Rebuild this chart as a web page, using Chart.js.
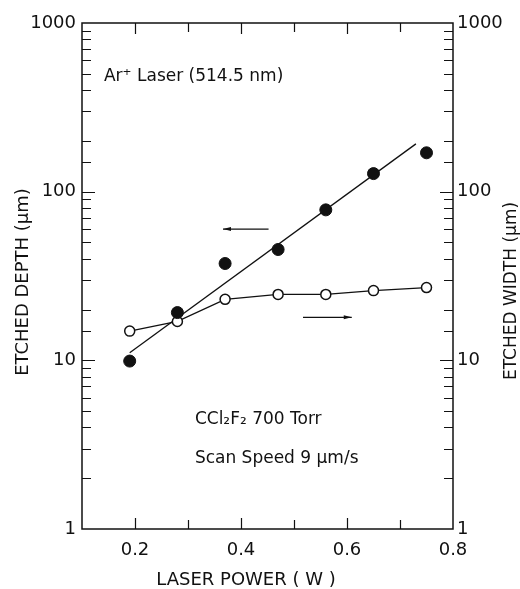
<!DOCTYPE html>
<html>
<head>
<meta charset="utf-8">
<script src="https://cdn.jsdelivr.net/npm/chart.js@4.4.1/dist/chart.umd.min.js"></script>
<style>
	html, body { margin: 0; padding: 0; background: #fff; }
	#wrap { width: 520px; height: 589px; }
</style>
</head>
<body>
<div id="wrap"><canvas id="graphics-canvas" width="520" height="589"></canvas></div>
<script>
// laser power (W)
const power = [0.19, 0.28, 0.37, 0.47, 0.56, 0.65, 0.75];
// etched depth (um), filled circles, left axis
const depth = [9.9, 19.2, 37.5, 45.4, 78, 128, 170];
// etched width (um), open circles, right axis
const width = [14.9, 17.0, 23.0, 24.6, 24.6, 25.9, 27.0];
// straight fit drawn through the depth points
const fit_power = [0.19, 0.73];
const fit_depth = [11.1, 192];
// arrows telling which axis each curve belongs to
const arrow_left_power = [0.452, 0.366];
const arrow_left_value = [60, 60];
const arrow_right_power = [0.517, 0.609];
const arrow_right_value = [18, 18];
// labelled ticks
const x_labels = [0.2, 0.4, 0.6, 0.8];
const y_labels = [1, 10, 100, 1000];

const FONT = "'DejaVu Sans', sans-serif";
const INK = "#111";

function pairs (xs, ys) {
	return xs.map((x, i) => ({ x: x, y: ys[i] }));
}

function is_decade (v) {
	let l = Math.log10(v);
	return Math.abs(l - Math.round(l)) < 1e-6;
}

function vertical_text (ctx, text, x, y) {
	ctx.save();
	ctx.translate(x, y);
	ctx.rotate(-Math.PI / 2);
	ctx.fillText(text, 0, 0);
	ctx.restore();
}

// frame + inward ticks, arrows and free text
const decorations = {
	id: "decorations",
	beforeDatasetsDraw (chart) {
		let ctx = chart.ctx;
		let a = chart.chartArea;
		let sx = chart.scales.x;
		let sy = chart.scales.y;
		ctx.save();
		ctx.strokeStyle = INK;
		ctx.lineWidth = 1.5;
		ctx.strokeRect(a.left, a.top, a.right - a.left, a.bottom - a.top);
		ctx.lineWidth = 1.2;
		ctx.beginPath();
		sx.ticks.forEach(t => {
			if (t.value <= sx.min + 1e-6 || t.value >= sx.max - 1e-6) return;
			let px = Math.round(sx.getPixelForValue(t.value)) + 0.5;
			let major = x_labels.some(v => Math.abs(v - t.value) < 1e-6);
			let len = major ? 11 : 9;
			ctx.moveTo(px, a.bottom); ctx.lineTo(px, a.bottom - len);
			ctx.moveTo(px, a.top); ctx.lineTo(px, a.top + len);
		});
		sy.ticks.forEach(t => {
			if (t.value <= sy.min || t.value >= sy.max) return;
			let py = Math.round(sy.getPixelForValue(t.value)) + 0.5;
			let len = is_decade(t.value) ? 13 : 9;
			ctx.moveTo(a.left, py); ctx.lineTo(a.left + len, py);
			ctx.moveTo(a.right, py); ctx.lineTo(a.right - len, py);
		});
		ctx.stroke();
		ctx.restore();
	},
	afterDatasetsDraw (chart) {
		let ctx = chart.ctx;
		let sx = chart.scales.x;
		let sy = chart.scales.y;
		ctx.save();
		ctx.strokeStyle = INK;
		ctx.fillStyle = INK;
		ctx.lineWidth = 1.3;
		let arrows = [
			[arrow_left_power, arrow_left_value],
			[arrow_right_power, arrow_right_value]
		];
		arrows.forEach(([xs, ys]) => {
			let x0 = sx.getPixelForValue(xs[0]);
			let x1 = sx.getPixelForValue(xs[1]);
			let y0 = sy.getPixelForValue(ys[0]);
			let y1 = sy.getPixelForValue(ys[1]);
			ctx.beginPath();
			ctx.moveTo(x0, y0);
			ctx.lineTo(x1, y1);
			ctx.stroke();
			let dir = Math.sign(x1 - x0);
			ctx.beginPath();
			ctx.moveTo(x1, y1);
			ctx.lineTo(x1 - dir * 8, y1 - 2);
			ctx.lineTo(x1 - dir * 8, y1 + 2);
			ctx.closePath();
			ctx.fill();
		});

		ctx.font = "17px " + FONT;
		ctx.textBaseline = "middle";
		ctx.textAlign = "left";
		let notes = [
			["Ar\u207A Laser (514.5 nm)", 0.1415, 479],
			["CCl\u2082F\u2082 700 Torr", 0.313, 4.48],
			["Scan Speed 9 \u03BCm/s", 0.313, 2.6]
		];
		notes.forEach(([text, x, y]) => {
			ctx.fillText(text, sx.getPixelForValue(x), sy.getPixelForValue(y));
		});

		// axis titles
		ctx.textAlign = "center";
		ctx.font = "18px " + FONT;
		ctx.fillText("LASER POWER ( W )", 246, 580);
		vertical_text(ctx, "ETCHED DEPTH (\u03BCm)", 23, 282);
		ctx.font = "17px " + FONT;
		vertical_text(ctx, "ETCHED WIDTH (\u03BCm)", 512, 291);
		ctx.restore();
	}
};

const config = {
	type: "scatter",
	data: {
		datasets: [
			{
				label: "Etched depth",
				data: pairs(power, depth),
				yAxisID: "y",
				showLine: false,
				pointRadius: 6,
				pointBackgroundColor: INK,
				pointBorderColor: INK,
				pointBorderWidth: 1
			},
			{
				label: "Etched width",
				data: pairs(power, width),
				yAxisID: "y2",
				showLine: true,
				borderColor: INK,
				borderWidth: 1.3,
				pointRadius: 5,
				pointBackgroundColor: "#fff",
				pointBorderColor: INK,
				pointBorderWidth: 1.5
			},
			{
				label: "Depth fit",
				data: pairs(fit_power, fit_depth),
				yAxisID: "y",
				showLine: true,
				borderColor: INK,
				borderWidth: 1.3,
				pointRadius: 0
			}
		]
	},
	options: {
		responsive: false,
		animation: false,
		layout: { padding: { top: 23, left: 0, right: 0, bottom: 0 } },
		plugins: {
			legend: { display: false },
			tooltip: { enabled: false }
		},
		scales: {
			x: {
				type: "linear",
				position: "bottom",
				min: 0.1,
				max: 0.8,
				grid: { display: false, tickLength: 0 },
				border: { display: false },
				afterFit: s => { s.height = 60; },
				ticks: {
					stepSize: 0.1,
					autoSkip: false,
					maxRotation: 0,
					padding: 11,
					color: INK,
					font: { family: FONT, size: 18 },
					callback: v => x_labels.some(l => Math.abs(l - v) < 1e-6) ? v.toFixed(1) : ""
				}
			},
			y: {
				type: "logarithmic",
				position: "left",
				min: 1,
				max: 1000,
				grid: { display: false, tickLength: 0 },
				border: { display: false },
				afterFit: s => { s.width = 82; },
				ticks: {
					autoSkip: false,
					padding: 6,
					color: INK,
					font: { family: FONT, size: 18 },
					callback: v => y_labels.includes(v) ? String(v) : ""
				}
			},
			y2: {
				type: "logarithmic",
				position: "right",
				min: 1,
				max: 1000,
				grid: { display: false, tickLength: 0 },
				border: { display: false },
				afterFit: s => { s.width = 67; },
				ticks: {
					autoSkip: false,
					padding: 4,
					color: INK,
					font: { family: FONT, size: 18 },
					callback: v => y_labels.includes(v) ? String(v) : ""
				}
			}
		}
	},
	plugins: [decorations]
};

new Chart(document.getElementById("graphics-canvas"), config);
</script>
</body>
</html>
